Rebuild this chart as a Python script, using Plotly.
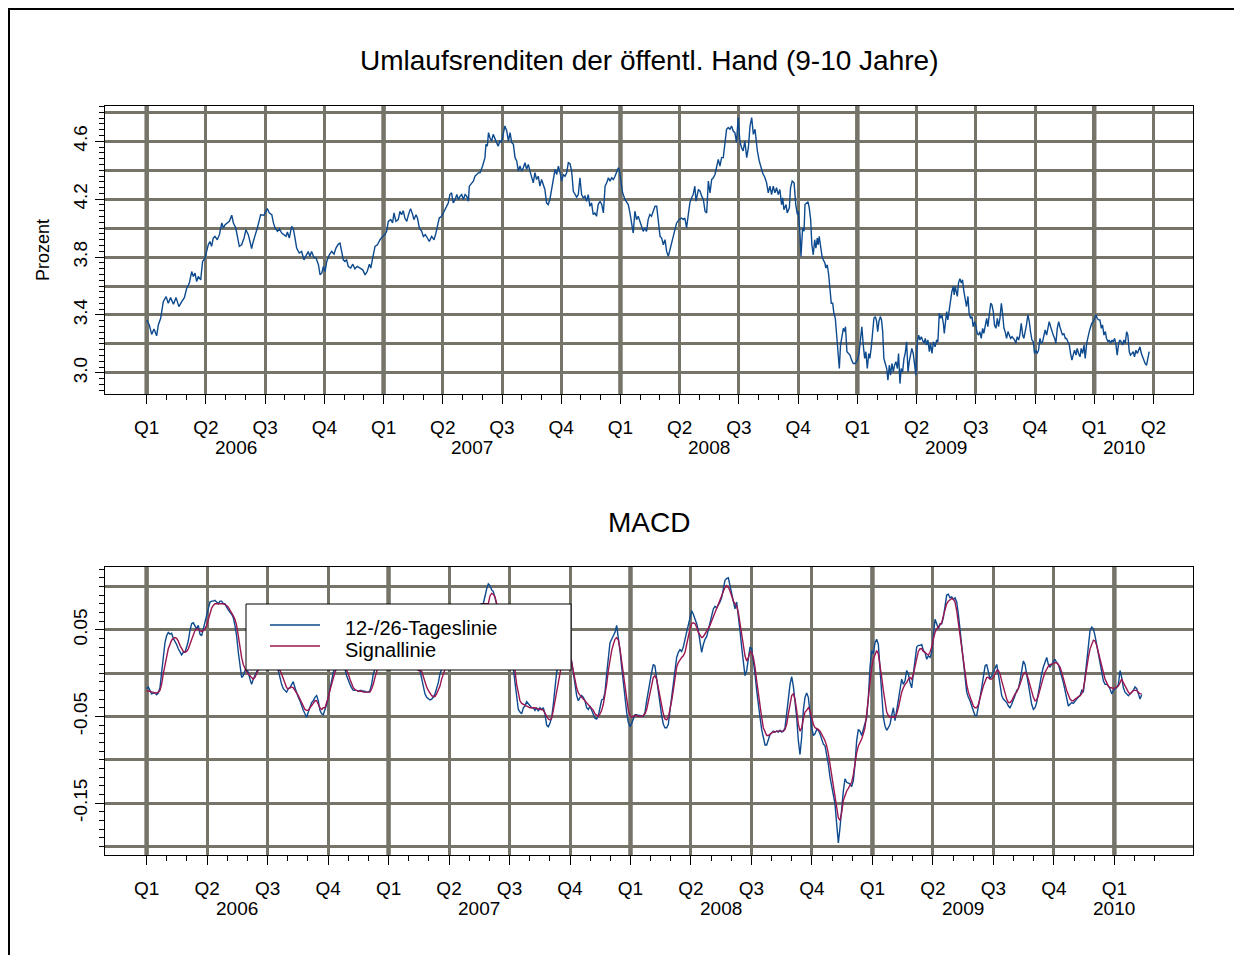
import numpy as np
import plotly.graph_objects as go

# ---------------- data ----------------
# Umlaufsrendite (9-10 Jahre), Prozent; time in decimal years
top_t = [
    2006.000, 2006.011, 2006.021, 2006.031, 2006.042, 2006.049, 2006.059, 2006.070, 2006.082, 2006.091,
    2006.101, 2006.113, 2006.124, 2006.136, 2006.148, 2006.159, 2006.169, 2006.180, 2006.190, 2006.197,
    2006.204, 2006.211, 2006.218, 2006.228, 2006.236, 2006.246, 2006.253, 2006.260, 2006.267, 2006.274,
    2006.281, 2006.288, 2006.298, 2006.307, 2006.317, 2006.324, 2006.331, 2006.341, 2006.349, 2006.359,
    2006.366, 2006.376, 2006.383, 2006.391, 2006.401, 2006.411, 2006.419, 2006.429, 2006.436, 2006.443,
    2006.450, 2006.457, 2006.467, 2006.476, 2006.481, 2006.495, 2006.509, 2006.518, 2006.528, 2006.535,
    2006.542, 2006.552, 2006.560, 2006.570, 2006.580, 2006.588, 2006.594, 2006.602, 2006.612, 2006.619,
    2006.626, 2006.633, 2006.644, 2006.654, 2006.664, 2006.673, 2006.682, 2006.689, 2006.696, 2006.706,
    2006.715, 2006.725, 2006.732, 2006.739, 2006.746, 2006.753, 2006.760, 2006.771, 2006.781, 2006.791,
    2006.799, 2006.809, 2006.816, 2006.823, 2006.830, 2006.837, 2006.844, 2006.851, 2006.861, 2006.870,
    2006.879, 2006.889, 2006.901, 2006.912, 2006.922, 2006.931, 2006.940, 2006.946, 2006.954, 2006.964,
    2006.974, 2006.985, 2006.996, 2007.006, 2007.013, 2007.020, 2007.030, 2007.038, 2007.044, 2007.052,
    2007.062, 2007.069, 2007.076, 2007.083, 2007.090, 2007.098, 2007.105, 2007.114, 2007.123, 2007.128,
    2007.137, 2007.143, 2007.151, 2007.161, 2007.168, 2007.176, 2007.185, 2007.193, 2007.203, 2007.213,
    2007.221, 2007.227, 2007.235, 2007.245, 2007.255, 2007.264, 2007.273, 2007.280, 2007.287, 2007.294,
    2007.302, 2007.309, 2007.316, 2007.323, 2007.330, 2007.337, 2007.344, 2007.351, 2007.358, 2007.362,
    2007.372, 2007.379, 2007.386, 2007.400,
    2007.407, 2007.418, 2007.428, 2007.432, 2007.438, 2007.443, 2007.449, 2007.456, 2007.463, 2007.470,
    2007.477, 2007.484, 2007.491, 2007.498, 2007.505, 2007.512, 2007.520, 2007.527, 2007.534, 2007.541,
    2007.548, 2007.555, 2007.562, 2007.569, 2007.576, 2007.583, 2007.590, 2007.597, 2007.604, 2007.611,
    2007.618, 2007.625, 2007.632, 2007.639, 2007.646, 2007.653, 2007.660, 2007.667, 2007.674, 2007.681,
    2007.688, 2007.695, 2007.702, 2007.709, 2007.717, 2007.724, 2007.731, 2007.738, 2007.745, 2007.752,
    2007.759, 2007.766, 2007.773, 2007.780, 2007.787, 2007.794, 2007.801, 2007.808, 2007.815, 2007.822,
    2007.829, 2007.836, 2007.843, 2007.850, 2007.857, 2007.864, 2007.871, 2007.878, 2007.885, 2007.892,
    2007.899, 2007.906, 2007.914, 2007.921, 2007.928, 2007.935, 2007.942, 2007.949, 2007.956, 2007.963,
    2007.970, 2007.977, 2007.984, 2007.991, 2007.995, 2008.001, 2008.009, 2008.019, 2008.026, 2008.033,
    2008.040, 2008.047, 2008.054, 2008.061, 2008.068, 2008.075, 2008.082, 2008.089, 2008.096, 2008.103,
    2008.110, 2008.117, 2008.124, 2008.131, 2008.139, 2008.146, 2008.153, 2008.160, 2008.167, 2008.174,
    2008.181, 2008.188, 2008.195, 2008.202, 2008.209, 2008.216, 2008.226, 2008.237, 2008.248, 2008.258,
    2008.265, 2008.272, 2008.279, 2008.286, 2008.293, 2008.300, 2008.307, 2008.314, 2008.319, 2008.329,
    2008.336, 2008.343, 2008.350, 2008.357, 2008.364, 2008.371, 2008.378, 2008.385, 2008.392, 2008.399,
    2008.406, 2008.413, 2008.420, 2008.427, 2008.434, 2008.441, 2008.448, 2008.455, 2008.462, 2008.469,
    2008.476, 2008.483, 2008.490, 2008.497, 2008.504, 2008.511, 2008.518, 2008.525, 2008.533, 2008.540,
    2008.547, 2008.554, 2008.561, 2008.568, 2008.572, 2008.578, 2008.586, 2008.592, 2008.600, 2008.610,
    2008.617, 2008.624, 2008.631, 2008.638, 2008.645, 2008.652, 2008.659, 2008.666, 2008.673, 2008.680,
    2008.685, 2008.690, 2008.699, 2008.704, 2008.713, 2008.718, 2008.725, 2008.733, 2008.740, 2008.747,
    2008.751, 2008.758,
    2008.762, 2008.769, 2008.775, 2008.779, 2008.786, 2008.792, 2008.797, 2008.803, 2008.808, 2008.814,
    2008.820, 2008.825, 2008.831, 2008.835, 2008.839, 2008.845, 2008.851, 2008.856, 2008.863, 2008.867,
    2008.873, 2008.879, 2008.884, 2008.890, 2008.896, 2008.901, 2008.907, 2008.912, 2008.918, 2008.924,
    2008.929, 2008.935, 2008.941, 2008.946, 2008.950, 2008.956, 2008.962, 2008.969, 2008.976, 2008.983,
    2008.991, 2009.000, 2009.007, 2009.014, 2009.019, 2009.025, 2009.031, 2009.036, 2009.042, 2009.048,
    2009.053, 2009.059, 2009.064, 2009.070, 2009.076, 2009.081, 2009.086, 2009.091, 2009.097, 2009.102,
    2009.107, 2009.112, 2009.118, 2009.124, 2009.129, 2009.135, 2009.140, 2009.146, 2009.152, 2009.157,
    2009.163, 2009.169, 2009.174, 2009.180, 2009.185, 2009.191, 2009.197, 2009.202, 2009.208, 2009.214,
    2009.219, 2009.225, 2009.230, 2009.236, 2009.242, 2009.247, 2009.253, 2009.259, 2009.264, 2009.270,
    2009.275, 2009.281, 2009.287, 2009.292, 2009.298, 2009.304, 2009.309, 2009.315, 2009.321, 2009.328,
    2009.335, 2009.340, 2009.346, 2009.351, 2009.357, 2009.363, 2009.367, 2009.373, 2009.377, 2009.382,
    2009.388, 2009.394, 2009.399, 2009.405, 2009.409, 2009.413, 2009.418, 2009.422, 2009.427, 2009.433,
    2009.439, 2009.444, 2009.450, 2009.456, 2009.461, 2009.467, 2009.472, 2009.478, 2009.484, 2009.489,
    2009.495, 2009.501, 2009.506, 2009.512, 2009.517, 2009.523, 2009.529, 2009.534, 2009.540, 2009.546,
    2009.551, 2009.557, 2009.563, 2009.568, 2009.574, 2009.579, 2009.585, 2009.591, 2009.596, 2009.602,
    2009.608, 2009.613, 2009.619, 2009.624, 2009.630, 2009.636, 2009.641, 2009.647, 2009.653, 2009.658,
    2009.664, 2009.669, 2009.675, 2009.681, 2009.686, 2009.692, 2009.698, 2009.703, 2009.709, 2009.714,
    2009.720, 2009.726, 2009.731, 2009.737, 2009.743, 2009.748, 2009.754, 2009.759, 2009.765, 2009.771,
    2009.776, 2009.782, 2009.788, 2009.793, 2009.799, 2009.804, 2009.810, 2009.816, 2009.821, 2009.827,
    2009.833, 2009.838, 2009.844, 2009.850, 2009.855, 2009.861, 2009.866, 2009.872, 2009.878, 2009.883,
    2009.889, 2009.895, 2009.900, 2009.906, 2009.911, 2009.917, 2009.923, 2009.928, 2009.934, 2009.940,
    2009.945, 2009.951, 2009.957, 2009.962, 2009.968, 2009.973, 2009.979, 2009.985, 2009.990, 2009.996,
    2010.002, 2010.007, 2010.013, 2010.018, 2010.024, 2010.030, 2010.035, 2010.041, 2010.047, 2010.052,
    2010.058, 2010.063, 2010.069, 2010.075, 2010.080, 2010.086, 2010.092, 2010.097, 2010.103, 2010.108,
    2010.114, 2010.120, 2010.125, 2010.131, 2010.137, 2010.142, 2010.148, 2010.153, 2010.159, 2010.165,
    2010.170, 2010.176, 2010.182, 2010.187, 2010.193, 2010.199, 2010.204, 2010.210, 2010.215, 2010.221,
    2010.227, 2010.232,
]
top_v = [
    3.365, 3.331, 3.266, 3.303, 3.256, 3.331, 3.377, 3.492, 3.527, 3.481,
    3.520, 3.474, 3.520, 3.458, 3.492, 3.520, 3.585, 3.620, 3.700, 3.666,
    3.689, 3.631, 3.666, 3.643, 3.770, 3.793, 3.839, 3.885, 3.908, 3.874,
    3.932, 3.943, 3.920, 3.955, 4.036, 4.001, 4.024, 4.036, 4.047, 4.089,
    4.036, 4.001, 3.932, 3.874, 3.885, 3.932, 3.989, 3.955, 3.908, 3.858,
    3.908, 3.943, 4.001, 4.059, 4.093, 4.089, 4.135, 4.105, 4.093, 4.036,
    4.001, 3.978, 3.996, 3.966, 3.955, 3.943, 3.973, 3.932, 4.013, 3.996,
    3.932, 3.862, 3.828, 3.839, 3.781, 3.816, 3.839, 3.804, 3.839, 3.798,
    3.793, 3.747, 3.677, 3.689, 3.735, 3.700, 3.770, 3.816, 3.839, 3.821,
    3.862, 3.890, 3.897, 3.839, 3.781, 3.770, 3.781, 3.735, 3.724, 3.751,
    3.719, 3.735, 3.724, 3.712, 3.677, 3.700, 3.751, 3.724, 3.793, 3.874,
    3.885, 3.920, 3.943, 3.955, 3.978, 4.047, 4.059, 4.036, 4.105, 4.047,
    4.059, 4.116, 4.093, 4.121, 4.070, 4.047, 4.093, 4.135, 4.093, 4.059,
    4.093, 4.070, 4.001, 3.978, 3.943, 3.955, 3.932, 3.908, 3.943, 3.920,
    3.966, 4.024, 4.070, 4.082, 4.116, 4.140, 4.174, 4.232, 4.244, 4.174,
    4.197, 4.232, 4.197, 4.221, 4.232, 4.197, 4.232, 4.221, 4.186, 4.290,
    4.313, 4.325, 4.359, 4.382,
    4.383, 4.429, 4.487, 4.579, 4.567, 4.660, 4.625, 4.602, 4.648, 4.625,
    4.591, 4.567, 4.602, 4.591, 4.660, 4.706, 4.671, 4.602, 4.660, 4.591,
    4.579, 4.487, 4.464, 4.394, 4.429, 4.394, 4.417, 4.452, 4.406, 4.440,
    4.394, 4.359, 4.313, 4.383, 4.336, 4.359, 4.290, 4.336, 4.302, 4.267,
    4.175, 4.163, 4.198, 4.267, 4.348, 4.406, 4.371, 4.429, 4.383, 4.325,
    4.371, 4.359, 4.383, 4.452, 4.445, 4.394, 4.255, 4.232, 4.214, 4.232,
    4.348, 4.232, 4.209, 4.221, 4.186, 4.232, 4.151, 4.175, 4.094, 4.105,
    4.082, 4.163, 4.186, 4.163, 4.105, 4.290, 4.313, 4.348, 4.325, 4.348,
    4.336, 4.359, 4.383, 4.417, 4.406, 4.336, 4.244, 4.198, 4.175, 4.163,
    4.105, 4.047, 3.966, 4.117, 4.059, 4.082, 4.047, 4.024, 3.978, 4.001,
    3.978, 4.059, 4.094, 4.082, 4.117, 4.151, 4.151, 4.047, 3.943, 3.932,
    3.885, 3.920, 3.839, 3.805, 3.851, 3.909, 3.978, 4.036, 4.059, 4.070,
    4.059, 4.070, 4.001, 4.094, 4.175, 4.209, 4.232, 4.290, 4.186, 4.267,
    4.255, 4.221, 4.198, 4.117, 4.105, 4.325, 4.244, 4.336, 4.348, 4.371,
    4.429, 4.475, 4.429, 4.487, 4.487, 4.591, 4.683, 4.695, 4.683, 4.706,
    4.671, 4.660, 4.591, 4.764, 4.602, 4.556, 4.533, 4.602, 4.487, 4.556,
    4.706, 4.764, 4.648, 4.683, 4.602, 4.533, 4.464, 4.429, 4.383, 4.348,
    4.313, 4.244, 4.290, 4.232, 4.290, 4.244, 4.279, 4.232, 4.267, 4.163,
    4.209, 4.128, 4.163, 4.105, 4.140, 4.279, 4.325, 4.313, 4.163, 4.094,
    4.117, 3.955,
    3.805, 4.001, 3.978, 4.163, 4.175, 4.182, 4.140, 4.059, 3.885, 3.816,
    3.920, 3.862, 3.932, 3.885, 3.943, 3.862, 3.805, 3.782, 3.759, 3.724,
    3.747, 3.677, 3.585, 3.481, 3.481, 3.412, 3.377, 3.285, 3.146, 3.030,
    3.192, 3.261, 3.308, 3.285, 3.319, 3.146, 3.134, 3.123, 3.088, 3.065,
    3.065, 3.088, 3.134, 3.238, 3.319, 3.192, 3.100, 3.146, 3.030, 3.134,
    3.100, 3.180, 3.261, 3.377, 3.389, 3.359, 3.285, 3.354, 3.389, 3.366,
    3.285, 3.100, 3.065, 3.030, 2.949, 3.053, 2.984, 3.065, 3.007, 3.053,
    3.077, 3.030, 3.134, 2.926, 3.030, 3.007, 3.100, 3.134, 3.215, 3.007,
    3.077, 3.146, 3.169, 3.134, 3.053, 2.984, 3.215, 3.261, 3.227, 3.250,
    3.227, 3.204, 3.238, 3.192, 3.227, 3.146, 3.204, 3.134, 3.215, 3.180,
    3.227, 3.215, 3.412, 3.377, 3.400, 3.343, 3.273, 3.400, 3.423, 3.366,
    3.447, 3.504, 3.562, 3.597, 3.539, 3.597, 3.562, 3.528, 3.620, 3.650,
    3.620, 3.643, 3.562, 3.504, 3.458, 3.528, 3.412, 3.377, 3.389, 3.319,
    3.354, 3.319, 3.273, 3.261, 3.285, 3.238, 3.308, 3.273, 3.343, 3.377,
    3.319, 3.423, 3.481, 3.470, 3.423, 3.331, 3.308, 3.377, 3.319, 3.377,
    3.481, 3.412, 3.308, 3.285, 3.238, 3.285, 3.261, 3.238, 3.250, 3.238,
    3.227, 3.204, 3.250, 3.227, 3.261, 3.343, 3.261, 3.238, 3.285, 3.331,
    3.400, 3.354, 3.285, 3.227, 3.215, 3.134, 3.157, 3.134, 3.157, 3.238,
    3.204, 3.215, 3.261, 3.296, 3.261, 3.296, 3.354, 3.319, 3.285, 3.261,
    3.238, 3.204, 3.308, 3.354, 3.319, 3.285, 3.261, 3.273, 3.238, 3.238,
    3.215, 3.192, 3.134, 3.088, 3.123, 3.157, 3.123, 3.169, 3.134, 3.111,
    3.169, 3.134, 3.192, 3.100, 3.204, 3.250, 3.285, 3.319, 3.343, 3.354,
    3.377, 3.400, 3.377, 3.366, 3.366, 3.308, 3.331, 3.261, 3.285, 3.238,
    3.215, 3.227, 3.204, 3.227, 3.215, 3.238, 3.192, 3.123, 3.204, 3.227,
    3.215, 3.192, 3.227, 3.204, 3.285, 3.261, 3.146, 3.123, 3.134, 3.146,
    3.111, 3.157, 3.134, 3.157, 3.180, 3.134, 3.111, 3.088, 3.065, 3.053,
    3.100, 3.146,
]

# MACD (12-/26-Tageslinie) and signal line, evenly spaced observations
macd_first, macd_last = 2006.0, 2010.113
macd_line = [
    -0.018, -0.016, -0.020, -0.024, -0.023, -0.023, -0.025, -0.023, -0.017, 0.003,
    0.022, 0.035, 0.043, 0.047, 0.045, 0.046, 0.040, 0.037, 0.033, 0.028,
    0.024, 0.021, 0.024, 0.024, 0.030, 0.037, 0.049, 0.057, 0.058, 0.055,
    0.051, 0.055, 0.045, 0.043, 0.051, 0.060, 0.068, 0.076, 0.082, 0.083,
    0.083, 0.084, 0.082, 0.080, 0.083, 0.083, 0.080, 0.080, 0.076, 0.072,
    0.070, 0.068, 0.064, 0.055, 0.043, 0.024, 0.007, -0.005, -0.003, 0.003,
    0.003, 0.001, -0.007, -0.013, -0.007, -0.003, 0.001, 0.006, 0.010, 0.014,
    0.016, 0.016, 0.014, 0.013, 0.014, 0.014, 0.012, 0.010, 0.007, 0.003,
    -0.007, -0.013, -0.018, -0.020, -0.022, -0.018, -0.017, -0.013, -0.010, -0.017,
    -0.024, -0.028, -0.032, -0.038, -0.043, -0.047, -0.051, -0.045, -0.040, -0.034,
    -0.032, -0.028, -0.026, -0.032, -0.043, -0.047, -0.048, -0.043, -0.036, -0.028,
    -0.017, -0.007, 0.001, 0.005, 0.008, 0.012, 0.014, 0.012, 0.008, 0.005,
    -0.003, -0.009, -0.013, -0.017, -0.020, -0.020, -0.020, -0.021, -0.020, -0.020,
    -0.021, -0.021, -0.022, -0.022, -0.020, -0.013, -0.001, 0.005, 0.010, 0.016,
    0.022, 0.026, 0.030, 0.032, 0.033, 0.033, 0.032, 0.030, 0.028, 0.025,
    0.023, 0.020, 0.018, 0.016, 0.014, 0.012, 0.011, 0.010, 0.010, 0.008,
    0.007, 0.007, 0.006, 0.005, 0.003, -0.007, -0.017, -0.024, -0.028, -0.030,
    -0.031, -0.030, -0.028, -0.024, -0.018, -0.011, -0.001, 0.005, 0.010, 0.016,
    0.022, 0.028, 0.033, 0.038, 0.043, 0.047, 0.051, 0.053, 0.055, 0.057,
    0.058, 0.061, 0.064, 0.067,
    0.070, 0.072, 0.074, 0.075, 0.077, 0.078, 0.079, 0.080, 0.080, 0.091,
    0.097, 0.103, 0.101, 0.096, 0.094, 0.087, 0.080, 0.072, 0.062, 0.053,
    0.043, 0.033, 0.026, 0.018, 0.012, 0.007, 0.005, -0.013, -0.030, -0.042,
    -0.045, -0.047, -0.040, -0.038, -0.033, -0.035, -0.038, -0.040, -0.040, -0.043,
    -0.040, -0.044, -0.040, -0.042, -0.040, -0.047, -0.060, -0.062, -0.058, -0.051,
    -0.036, -0.017, 0.001, 0.008, 0.014, 0.019, 0.022, 0.023, 0.022, 0.020,
    0.017, 0.014, -0.001, -0.017, -0.026, -0.032, -0.028, -0.026, -0.028, -0.032,
    -0.040, -0.042, -0.038, -0.043, -0.047, -0.052, -0.053, -0.049, -0.040, -0.031,
    -0.030, -0.022, -0.001, 0.022, 0.035, 0.039, 0.043, 0.047, 0.055, 0.043,
    0.026, 0.007, -0.013, -0.030, -0.045, -0.057, -0.062, -0.058, -0.053, -0.048,
    -0.048, -0.049, -0.049, -0.050, -0.050, -0.045, -0.032, -0.020, -0.009, 0.001,
    0.010, 0.008, -0.007, -0.022, -0.036, -0.049, -0.059, -0.063, -0.063, -0.059,
    -0.043, -0.026, -0.011, 0.005, 0.018, 0.024, 0.027, 0.025, 0.030, 0.039,
    0.047, 0.057, 0.066, 0.072, 0.068, 0.063, 0.057, 0.049, 0.035, 0.024,
    0.033, 0.039, 0.042, 0.049, 0.057, 0.066, 0.074, 0.077, 0.075, 0.078,
    0.082, 0.087, 0.097, 0.107, 0.109, 0.110, 0.101, 0.091, 0.080, 0.074,
    0.082, 0.068, 0.049, 0.030, 0.010, -0.003, 0.003, 0.020, 0.030, 0.028,
    0.016, -0.001, -0.020, -0.038, -0.051, -0.065, -0.076, -0.083, -0.083, -0.078,
    -0.071, -0.069, -0.067, -0.068, -0.067, -0.068, -0.066, -0.068, -0.067, -0.063,
    -0.049, -0.030, -0.013, -0.004, -0.015, -0.032, -0.051, -0.078, -0.094, -0.074,
    -0.043, -0.028, -0.023, -0.028, -0.045,
    -0.063, -0.072, -0.070, -0.065, -0.066, -0.070, -0.076, -0.082, -0.084, -0.093,
    -0.105, -0.120, -0.130, -0.140, -0.151, -0.174, -0.196, -0.178, -0.151, -0.136,
    -0.122, -0.126, -0.127, -0.128, -0.131, -0.124, -0.105, -0.078, -0.065, -0.067,
    -0.072, -0.065, -0.061, -0.051, -0.028, 0.007, 0.026, 0.022, 0.035, 0.039,
    0.033, 0.003, -0.024, -0.051, -0.061, -0.066, -0.063, -0.059, -0.049, -0.040,
    -0.055, -0.043, -0.032, -0.020, -0.007, -0.013, -0.009, 0.003, -0.001, -0.011,
    -0.017, -0.001, 0.014, 0.030, 0.032, 0.032, 0.033, 0.026, 0.024, 0.016,
    0.020, 0.018, 0.024, 0.041, 0.062, 0.057, 0.051, 0.057, 0.057, 0.064,
    0.080, 0.090, 0.091, 0.087, 0.088, 0.085, 0.087, 0.082, 0.068, 0.051,
    0.033, 0.014, -0.005, -0.022, -0.028, -0.032, -0.038, -0.043, -0.049, -0.049,
    -0.040, -0.028, -0.017, -0.003, 0.008, 0.010, 0.001, -0.007, -0.003, 0.002,
    0.007, 0.010, -0.001, -0.015, -0.026, -0.030, -0.032, -0.034, -0.038, -0.040,
    -0.036, -0.032, -0.026, -0.020, -0.018, -0.009, 0.005, 0.014, 0.010, -0.001,
    -0.013, -0.026, -0.036, -0.042, -0.040, -0.034, -0.022, -0.009, -0.001, 0.007,
    0.014, 0.018, 0.010, 0.007, 0.010, 0.014, 0.016, 0.012, 0.010, 0.003,
    -0.003, -0.011, -0.020, -0.030, -0.038, -0.036, -0.034, -0.035, -0.032, -0.030,
    -0.028, -0.026, -0.020, -0.022, -0.005, 0.014, 0.033, 0.049, 0.053, 0.051,
    0.043, 0.033, 0.022, 0.010, -0.001, -0.009, -0.013, -0.013, -0.015, -0.018,
    -0.024, -0.020, -0.018, -0.017, -0.013, 0.003, -0.005, -0.017, -0.022, -0.024,
    -0.026, -0.024, -0.022, -0.020, -0.016, -0.018, -0.024, -0.030, -0.025,
]
signal_line = [
    -0.020, -0.021, -0.021, -0.022, -0.022, -0.023, -0.023, -0.022, -0.020, -0.013,
    -0.001, 0.010, 0.020, 0.028, 0.033, 0.038, 0.040, 0.041, 0.040, 0.037,
    0.032, 0.028, 0.025, 0.024, 0.025, 0.028, 0.033, 0.039, 0.045, 0.049,
    0.051, 0.051, 0.049, 0.048, 0.049, 0.051, 0.055, 0.062, 0.070, 0.075,
    0.078, 0.080, 0.080, 0.080, 0.080, 0.080, 0.080, 0.079, 0.078, 0.076,
    0.073, 0.070, 0.066, 0.062, 0.055, 0.043, 0.030, 0.018, 0.010, 0.005,
    0.001, -0.001, -0.003, -0.005, -0.007, -0.005, -0.001, 0.005, 0.008, 0.011,
    0.013, 0.014, 0.014, 0.013, 0.012, 0.011, 0.010, 0.008, 0.007, 0.005,
    0.003, -0.001, -0.007, -0.013, -0.017, -0.018, -0.017, -0.016, -0.017, -0.020,
    -0.022, -0.026, -0.030, -0.034, -0.038, -0.042, -0.043, -0.043, -0.040, -0.038,
    -0.035, -0.032, -0.032, -0.036, -0.040, -0.042, -0.040, -0.040, -0.035, -0.028,
    -0.020, -0.013, -0.005, 0.001, 0.005, 0.008, 0.011, 0.012, 0.010, 0.007,
    0.003, -0.001, -0.007, -0.013, -0.017, -0.019, -0.020, -0.021, -0.021, -0.021,
    -0.022, -0.022, -0.022, -0.022, -0.022, -0.018, -0.013, -0.005, 0.003, 0.008,
    0.013, 0.018, 0.022, 0.025, 0.027, 0.029, 0.030, 0.030, 0.029, 0.027,
    0.026, 0.023, 0.021, 0.019, 0.017, 0.014, 0.013, 0.011, 0.010, 0.008,
    0.007, 0.006, 0.005, 0.003, 0.003, 0.002, -0.005, -0.011, -0.016, -0.020,
    -0.023, -0.026, -0.027, -0.027, -0.024, -0.020, -0.015, -0.007, -0.001, 0.005,
    0.010, 0.016, 0.022, 0.027, 0.032, 0.035, 0.039, 0.043, 0.047, 0.050,
    0.053, 0.057, 0.060, 0.062,
    0.065, 0.067, 0.070, 0.072, 0.074, 0.076, 0.077, 0.079, 0.080, 0.080,
    0.080, 0.080, 0.089, 0.092, 0.091, 0.088, 0.080, 0.076, 0.070, 0.064,
    0.057, 0.049, 0.039, 0.030, 0.022, 0.014, 0.008, 0.003, -0.013, -0.024,
    -0.032, -0.035, -0.036, -0.037, -0.038, -0.039, -0.040, -0.040, -0.040, -0.040,
    -0.041, -0.041, -0.042, -0.042, -0.043, -0.047, -0.049, -0.053, -0.054, -0.052,
    -0.043, -0.032, -0.018, -0.007, 0.003, 0.010, 0.014, 0.017, 0.019, 0.020,
    0.019, 0.012, 0.001, -0.009, -0.017, -0.023, -0.026, -0.028, -0.030, -0.032,
    -0.034, -0.036, -0.038, -0.040, -0.043, -0.047, -0.049, -0.050, -0.047, -0.043,
    -0.036, -0.026, -0.013, 0.003, 0.016, 0.026, 0.033, 0.039, 0.041, 0.038,
    0.028, 0.014, -0.001, -0.017, -0.032, -0.043, -0.049, -0.051, -0.050, -0.049,
    -0.049, -0.050, -0.050, -0.050, -0.049, -0.047, -0.042, -0.032, -0.022, -0.013,
    -0.005, -0.003, -0.007, -0.017, -0.028, -0.040, -0.047, -0.053, -0.054, -0.051,
    -0.043, -0.032, -0.020, -0.005, 0.007, 0.012, 0.016, 0.018, 0.020, 0.024,
    0.033, 0.043, 0.051, 0.057, 0.058, 0.057, 0.053, 0.047, 0.043, 0.041,
    0.042, 0.045, 0.049, 0.051, 0.055, 0.060, 0.065, 0.070, 0.074, 0.078,
    0.083, 0.089, 0.095, 0.099, 0.101, 0.099, 0.095, 0.089, 0.083, 0.080,
    0.077, 0.070, 0.058, 0.045, 0.032, 0.020, 0.014, 0.018, 0.024, 0.024,
    0.018, 0.007, -0.009, -0.024, -0.040, -0.051, -0.063, -0.068, -0.072, -0.072,
    -0.070, -0.069, -0.068, -0.068, -0.067, -0.067, -0.067, -0.067, -0.067, -0.065,
    -0.059, -0.047, -0.036, -0.026, -0.024, -0.030, -0.043, -0.059, -0.067, -0.063,
    -0.053, -0.045, -0.043, -0.040, -0.043,
    -0.051, -0.059, -0.063, -0.064, -0.065, -0.067, -0.070, -0.074, -0.078, -0.084,
    -0.093, -0.105, -0.117, -0.130, -0.143, -0.157, -0.167, -0.170, -0.161, -0.147,
    -0.140, -0.136, -0.133, -0.130, -0.126, -0.117, -0.103, -0.092, -0.084, -0.080,
    -0.076, -0.070, -0.063, -0.047, -0.028, -0.009, 0.007, 0.016, 0.022, 0.026,
    0.022, 0.010, -0.005, -0.020, -0.036, -0.045, -0.049, -0.051, -0.050, -0.051,
    -0.051, -0.047, -0.040, -0.030, -0.022, -0.017, -0.013, -0.011, -0.007, -0.005,
    -0.007, -0.001, 0.008, 0.018, 0.025, 0.028, 0.028, 0.025, 0.024, 0.022,
    0.021, 0.024, 0.030, 0.039, 0.047, 0.051, 0.053, 0.055, 0.058, 0.066,
    0.074, 0.080, 0.083, 0.085, 0.086, 0.085, 0.082, 0.072, 0.058, 0.045,
    0.030, 0.014, -0.001, -0.013, -0.022, -0.028, -0.034, -0.038, -0.040, -0.040,
    -0.036, -0.030, -0.022, -0.015, -0.009, -0.005, -0.005, -0.007, -0.007, -0.005,
    -0.001, 0.003, 0.003, -0.001, -0.009, -0.017, -0.024, -0.030, -0.034, -0.034,
    -0.032, -0.028, -0.024, -0.022, -0.018, -0.013, -0.007, -0.001, 0.001, -0.001,
    -0.007, -0.015, -0.022, -0.028, -0.032, -0.031, -0.026, -0.018, -0.011, -0.005,
    0.001, 0.005, 0.008, 0.010, 0.010, 0.011, 0.012, 0.012, 0.010, 0.007,
    0.001, -0.005, -0.013, -0.020, -0.026, -0.030, -0.032, -0.032, -0.030, -0.029,
    -0.027, -0.026, -0.024, -0.018, -0.007, 0.007, 0.018, 0.028, 0.033, 0.038,
    0.037, 0.032, 0.024, 0.016, 0.007, -0.001, -0.007, -0.011, -0.015, -0.017,
    -0.017, -0.018, -0.017, -0.016, -0.015, -0.011, -0.007, -0.011, -0.015, -0.018,
    -0.022, -0.024, -0.022, -0.020, -0.020, -0.020, -0.022, -0.024, -0.024,
]

quarter_names = ["Q1", "Q2", "Q3", "Q4"]
years = [2006, 2007, 2008, 2009, 2010]
top_ticks = [3.0, 3.2, 3.4, 3.6, 3.8, 4.0, 4.2, 4.4, 4.6, 4.8]
top_ticklabels = ["3.0", "", "3.4", "", "3.8", "", "4.2", "", "4.6", ""]
macd_ticks = [-0.20, -0.15, -0.10, -0.05, 0.0, 0.05, 0.10]
macd_ticklabels = ["", "-0.15", "", "-0.05", "", "0.05", ""]
title_top = "Umlaufsrenditen der öffentl. Hand (9-10 Jahre)"
title_bottom = "MACD"
ylabel_top = "Prozent"
legend_names = ["12-/26-Tageslinie", "Signallinie"]

assert len(top_t) == len(top_v)
assert len(macd_line) == len(signal_line)
macd_t = np.linspace(macd_first, macd_last, len(macd_line))

# ---------------- styling / layout ----------------
# the page has an 8px body margin; the figure is sized so no scrollbars appear
W, H = 1226, 947
OFF = 8
FONT = "Liberation Sans, Arial, sans-serif"
BLUE = "#0d4a8e"
RED = "#9c1650"
GRID = "#767369"


def fx(p):  # page pixel -> paper x
    return (p - OFF) / W


def fy(p):  # page pixel -> paper y
    return 1 - (p - OFF) / H


def quarter_ticks(last):
    vals, txt = [], []
    for y in years:
        for q in range(4):
            v = y + q / 4
            if v <= last + 1e-9:
                vals.append(v)
                txt.append(quarter_names[q])
    return vals, txt


def month_ticks(last):
    return [round(y + m / 12, 5) for y in years for m in range(12)
            if m % 3 and y + m / 12 <= last + 1e-9]


top_q, top_qt = quarter_ticks(2010.25)
bot_q, bot_qt = quarter_ticks(2010.0)

fig = go.Figure()
fig.add_trace(go.Scatter(x=top_t, y=top_v, mode="lines", line=dict(color=BLUE, width=1.4),
                         showlegend=False, xaxis="x", yaxis="y"))
fig.add_trace(go.Scatter(x=macd_t, y=macd_line, mode="lines", name=legend_names[0],
                         line=dict(color=BLUE, width=1.4), showlegend=False, xaxis="x2", yaxis="y2"))
fig.add_trace(go.Scatter(x=macd_t, y=signal_line, mode="lines", name=legend_names[1],
                         line=dict(color=RED, width=1.4), showlegend=False, xaxis="x2", yaxis="y2"))

tickfont = dict(family=FONT, size=19, color="black")


def xaxis(domain, rng, qv, qt, minor_last, anchor):
    return dict(domain=domain, range=rng, anchor=anchor, tickmode="array", tickvals=qv, ticktext=qt,
                ticks="outside", ticklen=9, tickwidth=1, tickcolor="black", ticklabelstandoff=7,
                showline=True, linecolor="black", linewidth=1, mirror=True,
                showgrid=True, gridcolor=GRID, gridwidth=3, zeroline=False, tickfont=tickfont,
                minor=dict(tickmode="array", tickvals=month_ticks(minor_last), ticks="outside",
                           ticklen=5, tickwidth=1, tickcolor="black", showgrid=False))


def yaxis(domain, rng, tv, tt, minor_vals, anchor):
    return dict(domain=domain, range=rng, anchor=anchor, tickmode="array", tickvals=tv, ticktext=tt,
                tickangle=-90, ticks="outside", ticklen=9, tickwidth=1, tickcolor="black",
                showline=True, linecolor="black", linewidth=1, mirror=True,
                showgrid=True, gridcolor=GRID, gridwidth=3, zeroline=False, tickfont=tickfont,
                minor=dict(tickmode="array", tickvals=minor_vals, ticks="outside",
                           ticklen=5, tickwidth=1, tickcolor="black", showgrid=False))


top_minor = [round(v, 3) for v in np.arange(2.88, 4.845, 0.04)]
bot_minor = [round(v, 3) for v in np.arange(-0.21, 0.125, 0.01)]

fig.update_layout(
    width=W, height=H,
    margin=dict(l=0, r=0, t=0, b=0),
    paper_bgcolor="white", plot_bgcolor="white",
    font=dict(family=FONT, color="black"),
    xaxis=xaxis([fx(105), fx(1193)], [2005.824, 2010.417], top_q, top_qt, 2010.17, "y"),
    yaxis=yaxis([fy(394), fy(106)], [2.854, 4.844], top_ticks, top_ticklabels, top_minor, "x"),
    xaxis2=xaxis([fx(105), fx(1193)], [2005.828, 2010.325], bot_q, bot_qt, 2010.17, "y2"),
    yaxis2=yaxis([fy(855), fy(567)], [-0.2099, 0.1224], macd_ticks, macd_ticklabels, bot_minor, "x2"),
    showlegend=False,
)

shapes = []
for y in years:
    for xr, yr in (("x", "y domain"), ("x2", "y2 domain")):
        shapes.append(dict(type="line", xref=xr, yref=yr, x0=y, x1=y, y0=0, y1=1,
                           line=dict(color=GRID, width=4.5), layer="below"))
# frame along the left and top edge of the figure
shapes.append(dict(type="line", xref="paper", yref="paper", x0=1 / W, x1=1 / W, y0=-0.1, y1=1.1,
                   line=dict(color="black", width=2)))
shapes.append(dict(type="line", xref="paper", yref="paper", x0=-0.1, x1=1.1, y0=1 - 1 / H, y1=1 - 1 / H,
                   line=dict(color="black", width=2)))
# legend box for the MACD panel
shapes.append(dict(type="rect", xref="paper", yref="paper", x0=fx(246), x1=fx(571), y0=fy(670), y1=fy(604),
                   line=dict(color="black", width=1), fillcolor="white", layer="above"))
for col, ypx in ((BLUE, 625), (RED, 646)):
    shapes.append(dict(type="line", xref="paper", yref="paper", x0=fx(270), x1=fx(320), y0=fy(ypx), y1=fy(ypx),
                       line=dict(color=col, width=1.6), layer="above"))
fig.update_layout(shapes=shapes)

ann = [
    dict(text=title_top, x=fx(649), y=fy(60), xref="paper", yref="paper", showarrow=False,
         font=dict(size=28, family=FONT, color="black"), xanchor="center", yanchor="middle"),
    dict(text=title_bottom, x=fx(649), y=fy(522), xref="paper", yref="paper", showarrow=False,
         font=dict(size=28, family=FONT, color="black"), xanchor="center", yanchor="middle"),
    dict(text=ylabel_top, x=fx(43), y=fy(250), xref="paper", yref="paper", showarrow=False,
         textangle=-90, font=dict(size=18, family=FONT, color="black"),
         xanchor="center", yanchor="middle"),
]
for name, ypx in zip(legend_names, (628, 650)):
    ann.append(dict(text=name, x=fx(343), y=fy(ypx), xref="paper", yref="paper", showarrow=False,
                    font=dict(size=20, family=FONT, color="black"), xanchor="left", yanchor="middle"))
for qv, xr, ypix in ((top_q, "x", 447), (bot_q, "x2", 908)):
    for y in years:
        pos = [v for v in qv if y <= v < y + 1]
        if not pos:
            continue
        ann.append(dict(text=str(y), x=(pos[0] + pos[-1]) / 2, y=fy(ypix), xref=xr, yref="paper",
                        showarrow=False, font=dict(size=19, family=FONT, color="black"),
                        xanchor="center", yanchor="middle"))
fig.update_layout(annotations=ann)

fig.write_html("out.html")
